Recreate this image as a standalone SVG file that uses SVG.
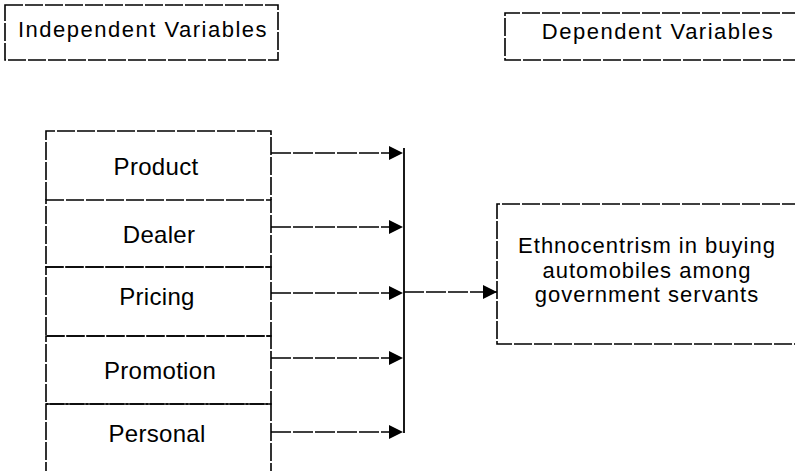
<svg xmlns="http://www.w3.org/2000/svg" width="795" height="471" viewBox="0 0 795 471">
<style>
.box{fill:none;stroke:#000;stroke-width:1.6;stroke-dasharray:18 2}
.ln{fill:none;stroke:#000;stroke-width:1.8}
.conn{fill:none;stroke:#000;stroke-width:1.6;stroke-dasharray:20 2}
.h{font-family:"Liberation Sans",Arial,sans-serif;font-size:22px;letter-spacing:1.5px;fill:#000;text-anchor:middle}
.t{font-family:"Liberation Sans",Arial,sans-serif;font-size:24px;letter-spacing:0.3px;fill:#000;text-anchor:middle}
.t2{font-family:"Liberation Sans",Arial,sans-serif;font-size:22px;letter-spacing:1px;fill:#000;text-anchor:middle}
</style>
<defs>
<marker id="ah" markerWidth="14" markerHeight="14" refX="14" refY="7" orient="auto" markerUnits="userSpaceOnUse">
<path d="M0,0 L14,7 L0,14 Z" fill="#000"/>
</marker>
</defs>
<rect width="795" height="471" fill="#fff"/>
<g id="independent-header">
<rect class="box" x="5" y="5" width="273" height="55"/>
<text class="h" x="143" y="37">Independent Variables</text>
</g>
<g id="dependent-header">
<path class="box" d="M800,13 H505 V60 H800"/>
<text class="h" x="658" y="39">Dependent Variables</text>
</g>
<g id="product">
<path class="box" d="M46,200 V131 H271 V200"/>
<text class="t" x="156" y="175">Product</text>
</g>
<g id="dealer">
<path class="box" d="M46,200 H271 V267 H46 Z"/>
<text class="t" x="159" y="243">Dealer</text>
</g>
<g id="pricing">
<path class="box" d="M46,267 H271 V336 H46 Z"/>
<text class="t" x="157" y="305">Pricing</text>
</g>
<g id="promotion">
<path class="box" d="M46,336 H271 V404 H46 Z"/>
<text class="t" x="160" y="379">Promotion</text>
</g>
<g id="personal">
<path class="box" d="M46,480 V404 H271 V480"/>
<text class="t" x="157" y="442">Personal</text>
</g>
<g id="outcome">
<path class="box" d="M800,204 H497 V344 H800"/>
<text class="t2" x="647" y="253">Ethnocentrism in buying</text>
<text class="t2" x="647" y="278">automobiles among</text>
<text class="t2" x="647" y="302">government servants</text>
</g>
<g id="connectors">
<line class="ln" x1="404" y1="148" x2="404" y2="433"/>
<line class="conn" x1="271" y1="153" x2="403" y2="153" marker-end="url(#ah)"/>
<line class="conn" x1="271" y1="227" x2="403" y2="227" marker-end="url(#ah)"/>
<line class="conn" x1="271" y1="293" x2="403" y2="293" marker-end="url(#ah)"/>
<line class="conn" x1="271" y1="358" x2="403" y2="358" marker-end="url(#ah)"/>
<line class="conn" x1="271" y1="432" x2="403" y2="432" marker-end="url(#ah)"/>
<line class="conn" x1="404" y1="292" x2="497" y2="292" marker-end="url(#ah)"/>
</g>
</svg>
